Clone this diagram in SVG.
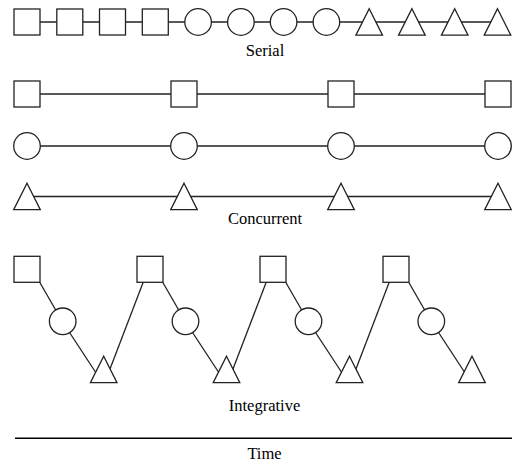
<svg xmlns="http://www.w3.org/2000/svg" width="512" height="464" viewBox="0 0 512 464">
<style>
.s{fill:#fff;stroke:#222;stroke-width:1.3}
.c{stroke:#222;stroke-width:1.3;fill:none}
.t{font-family:"Liberation Serif","Times New Roman",serif;font-size:16.5px;fill:#000;text-anchor:middle}
</style>
<defs>
<rect id="sq" x="-13" y="-13" width="26" height="26" class="s"/>
<circle id="ci" r="13.3" class="s"/>
<polygon id="tr" points="0,-13.2 13.3,13.2 -13.3,13.2" class="s"/>
</defs>
<g id="connectors">
<line class="c" x1="27" y1="22" x2="497.5" y2="22"/>
<line class="c" x1="27" y1="94" x2="498" y2="94"/>
<line class="c" x1="27" y1="146" x2="498" y2="146"/>
<line class="c" x1="27" y1="196.5" x2="498" y2="196.5"/>
<line class="c" x1="40" y1="282.7" x2="62" y2="321"/>
<line class="c" x1="62" y1="321" x2="102" y2="382"/>
<line class="c" x1="105" y1="382" x2="143" y2="282.7"/>
<line class="c" x1="163" y1="282.7" x2="185" y2="321"/>
<line class="c" x1="185" y1="321" x2="225" y2="382"/>
<line class="c" x1="228" y1="382" x2="266" y2="282.7"/>
<line class="c" x1="286" y1="282.7" x2="308" y2="321"/>
<line class="c" x1="308" y1="321" x2="348" y2="382"/>
<line class="c" x1="351" y1="382" x2="389" y2="282.7"/>
<line class="c" x1="409" y1="282.7" x2="431" y2="321"/>
<line class="c" x1="431" y1="321" x2="471" y2="382"/>
<line class="c" x1="15" y1="438.3" x2="512" y2="438.3" style="stroke:#000;stroke-width:1.5"/>
</g>
<g id="serial">
<g id="s1"><use href="#sq" x="27" y="22"/></g>
<g id="s2"><use href="#sq" x="69.8" y="22"/></g>
<g id="s3"><use href="#sq" x="112.5" y="22"/></g>
<g id="s4"><use href="#sq" x="155.3" y="22"/></g>
<g id="s5"><use href="#ci" x="198.1" y="22"/></g>
<g id="s6"><use href="#ci" x="240.9" y="22"/></g>
<g id="s7"><use href="#ci" x="283.6" y="22"/></g>
<g id="s8"><use href="#ci" x="326.4" y="22"/></g>
<g id="s9"><use href="#tr" x="369.2" y="22"/></g>
<g id="s10"><use href="#tr" x="411.9" y="22"/></g>
<g id="s11"><use href="#tr" x="454.7" y="22"/></g>
<g id="s12"><use href="#tr" x="497.5" y="22"/></g>
</g>
<g id="concurrent">
<g id="cs1"><use href="#sq" x="27" y="94"/></g>
<g id="cs2"><use href="#sq" x="184" y="94"/></g>
<g id="cs3"><use href="#sq" x="341" y="94"/></g>
<g id="cs4"><use href="#sq" x="498" y="94"/></g>
<g id="cc1"><use href="#ci" x="27" y="146"/></g>
<g id="cc2"><use href="#ci" x="184" y="146"/></g>
<g id="cc3"><use href="#ci" x="341" y="146"/></g>
<g id="cc4"><use href="#ci" x="498" y="146"/></g>
<g id="ct1"><use href="#tr" x="27" y="196.5"/></g>
<g id="ct2"><use href="#tr" x="184" y="196.5"/></g>
<g id="ct3"><use href="#tr" x="341" y="196.5"/></g>
<g id="ct4"><use href="#tr" x="498" y="196.5"/></g>
</g>
<g id="integrative">
<g id="is1"><use href="#sq" x="27" y="269.3"/></g>
<g id="ic1"><use href="#ci" x="62.7" y="321.3"/></g>
<g id="it1"><use href="#tr" x="103.7" y="369.5"/></g>
<g id="is2"><use href="#sq" x="150" y="269.3"/></g>
<g id="ic2"><use href="#ci" x="185.5" y="321.3"/></g>
<g id="it2"><use href="#tr" x="226.5" y="369.5"/></g>
<g id="is3"><use href="#sq" x="273" y="269.3"/></g>
<g id="ic3"><use href="#ci" x="308.5" y="321.3"/></g>
<g id="it3"><use href="#tr" x="349.5" y="369.5"/></g>
<g id="is4"><use href="#sq" x="396" y="269.3"/></g>
<g id="ic4"><use href="#ci" x="431.3" y="321.3"/></g>
<g id="it4"><use href="#tr" x="472" y="369.5"/></g>
</g>
<g id="labels">
<text class="t" x="265" y="55.5">Serial</text>
<text class="t" x="265" y="224.3">Concurrent</text>
<text class="t" x="264.5" y="410.7">Integrative</text>
<text class="t" x="264.5" y="459.3">Time</text>
</g>
</svg>
